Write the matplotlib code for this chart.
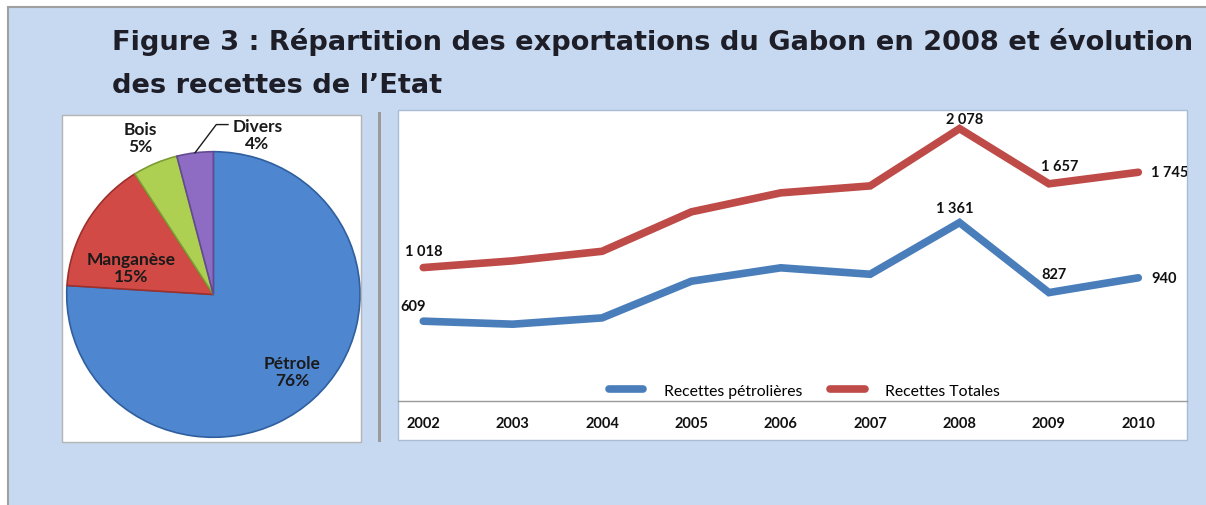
import numpy as np
import matplotlib
matplotlib.use("Agg")
import matplotlib.pyplot as plt
from matplotlib.patches import Rectangle

W, H = 1206, 506

# pie data (2008 exports)
pie_labels = ["Pétrole", "Manganèse", "Bois", "Divers"]
pie_values = [76, 15, 5, 4]

# line data (state revenue)
years = [2002, 2003, 2004, 2005, 2006, 2007, 2008, 2009, 2010]
recettes_petrolieres = [609, 586, 634, 914, 1016, 967, 1361, 827, 940]
recettes_totales = [1018, 1069, 1142, 1443, 1588, 1641, 2078, 1657, 1745]
labelled_years = [2002, 2008, 2009, 2010]

title_1 = "Figure 3 : Répartition des exportations du Gabon en 2008 et évolution"
title_2 = "des recettes de l\u2019Etat"

fig = plt.figure(figsize=(W / 100, H / 100), dpi=100)
fig.patch.set_facecolor("white")


def px_axes(x0, y0, x1, y1, **kw):
    return fig.add_axes([x0 / W, 1 - y1 / H, (x1 - x0) / W, (y1 - y0) / H], **kw)


# background panel and boxes, in pixel coordinates
bg = fig.add_axes([0, 0, 1, 1], zorder=-5)
bg.set_xlim(0, W)
bg.set_ylim(H, 0)
bg.axis("off")
bg.add_patch(Rectangle((8, 8), W, H, fc="#c6d9f0", ec="#a0a0a0", lw=1.5))
bg.add_patch(Rectangle((62, 116), 299, 327, fc="white", ec="#b4b4b4", lw=1))
bg.add_patch(Rectangle((378, 113), 3, 330, fc="#9a9a9a", ec="none"))
bg.add_patch(Rectangle((398, 111), 789, 330, fc="white", ec="#a9bcd6", lw=1))

fig.text(112 / W, 1 - 42 / H, title_1, fontsize=19.6, fontweight="bold",
         color="#1e1e28", va="center", ha="left", family="DejaVu Sans")
fig.text(112 / W, 1 - 86 / H, title_2, fontsize=19.6, fontweight="bold",
         color="#1e1e28", va="center", ha="left", family="DejaVu Sans")

# ---- pie ----
ax1 = px_axes(66.7, 152.7, 360, 438.3)
pie_colors = ["#4f86d0", "#d24a45", "#aed052", "#8e6cc4"]
wedges, _ = ax1.pie(pie_values, colors=pie_colors, startangle=90, counterclock=False,
                    radius=1)
ax1.set_aspect("auto")
ax1.set_xlim(-1, 1)
ax1.set_ylim(-1, 1)
# darker rim
for w, c in zip(wedges, ["#2f5f9e", "#9c302c", "#7d9c34", "#624a90"]):
    w.set_edgecolor(c)
    w.set_linewidth(1.2)

label_pos = [(0.54, -0.54), (-0.56, 0.19), (-0.50, 1.10), (0.30, 1.12)]
for name, v, (lx, ly) in zip(pie_labels, pie_values, label_pos):
    ax1.text(lx, ly, f"{name}\n{v}%", ha="center", va="center", fontsize=12.5,
             fontweight="bold", color="#1a1a1a", family="Lato",
             linespacing=1.1, clip_on=False)
# leader line for Divers
mid = np.deg2rad(90 - 360 * (sum(pie_values) - pie_values[-1] / 2) / sum(pie_values))
ax1.plot([np.cos(mid), 0.02, 0.10], [np.sin(mid), 1.19, 1.19], color="#1a1a1a",
         lw=1, clip_on=False)

# ---- line chart ----
ax2 = px_axes(398, 111, 1187, 402)
ax2.set_facecolor("none")
ax2.plot(years, recettes_petrolieres, color="#4a7ebb", lw=5.5,
         solid_capstyle="round", solid_joinstyle="miter", label="Recettes pétrolières")
ax2.plot(years, recettes_totales, color="#be4b48", lw=5.5,
         solid_capstyle="round", solid_joinstyle="miter", label="Recettes Totales")
ax2.set_xlim(2001.717, 2010.545)
ax2.set_ylim(0, 2220)
for s in ["top", "left", "right"]:
    ax2.spines[s].set_visible(False)
ax2.spines["bottom"].set_color("#9a9a9a")
ax2.spines["bottom"].set_linewidth(1)
ax2.set_yticks([])
ax2.set_xticks(years)
ax2.set_xticklabels([str(y) for y in years], fontsize=10.5, fontweight="bold",
                    family="Lato", color="#111111")
ax2.tick_params(axis="x", length=0, pad=11)


def fmt(v):
    return f"{v:,}".replace(",", " ")


# label offsets in pixels (dx, dy up)
offs_tot = {2002: (0, 17, "center"), 2008: (5, 10, "center"),
            2009: (11, 18, "center"), 2010: (13, 0, "left")}
offs_pet = {2002: (-10, 15, "center"), 2008: (-5, 15, "center"),
            2009: (5, 19, "center"), 2010: (13, 0, "left")}
for series, offs in [(recettes_totales, offs_tot), (recettes_petrolieres, offs_pet)]:
    for y in labelled_years:
        v = series[years.index(y)]
        dx, dy, ha = offs[y]
        ax2.annotate(fmt(v), (y, v), xytext=(dx * 0.72, dy * 0.72),
                     textcoords="offset points", ha=ha, va="center",
                     fontsize=10.5, fontweight="bold", family="Lato",
                     color="#111111", annotation_clip=False, clip_on=True)

ax2.legend(loc="center", bbox_to_anchor=(0.515, 0.035), ncol=2, frameon=False,
           prop=dict(family="Lato", size=11.3), handlelength=2.2,
           handletextpad=1.3, columnspacing=1.8)

fig.savefig("out.png", dpi=100)
